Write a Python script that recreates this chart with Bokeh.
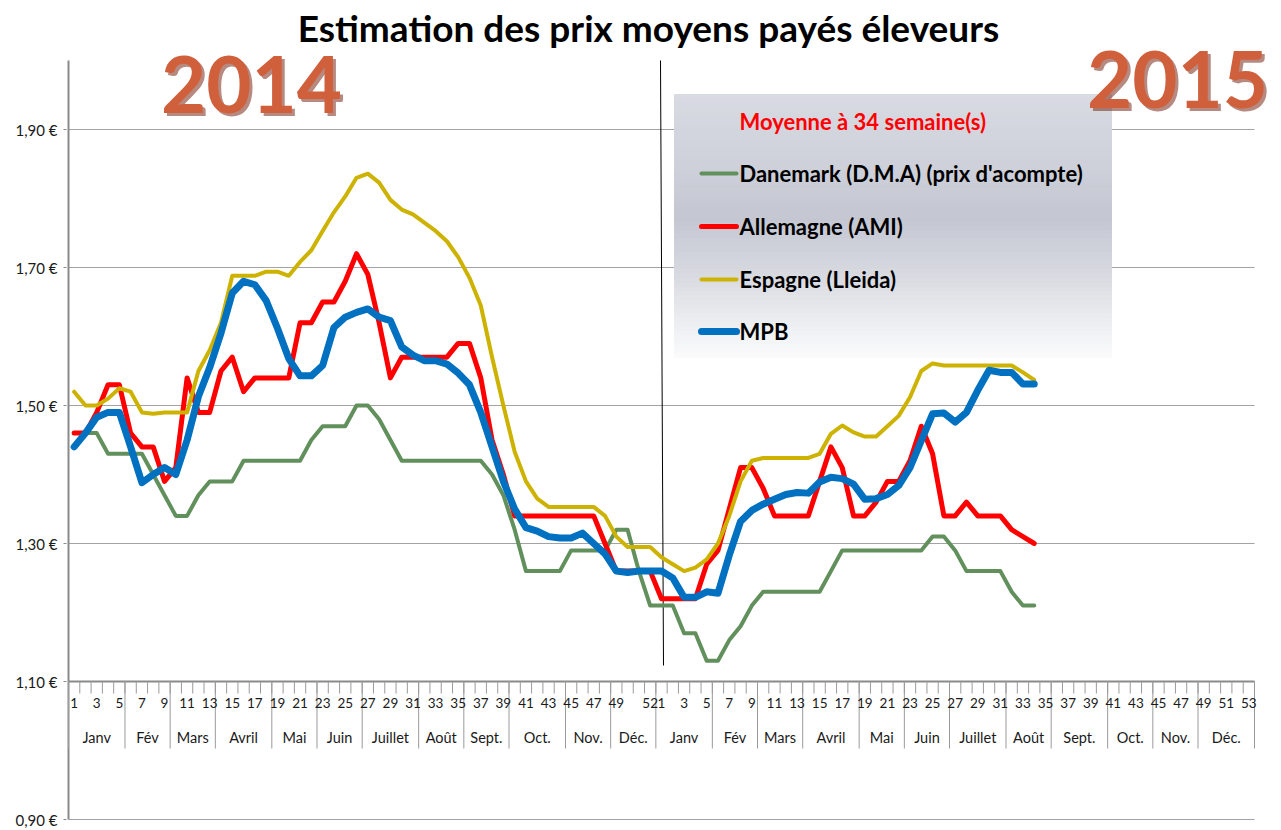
from bokeh.plotting import figure
from bokeh.models import Range1d, FixedTicker, Label, CustomJSTickFormatter
from bokeh.core.properties import value
from bokeh.embed import file_html
from bokeh.resources import INLINE

# ---------------- texts ----------------
title_text = "Estimation des prix moyens payés éleveurs"
legend_title = "Moyenne à  34 semaine(s)"
year_labels = ["2014", "2015"]
series_names = ["Danemark (D.M.A) (prix d'acompte)", "Allemagne (AMI)", "Espagne (Lleida)", "MPB"]

# ---------------- axis categories ----------------
months = ["Janv", "Fév", "Mars", "Avril", "Mai", "Juin", "Juillet", "Août", "Sept.", "Oct.", "Nov.", "Déc."]
weeks_per_month_2014 = [5, 4, 4, 5, 4, 4, 5, 4, 4, 5, 4, 4]
weeks_per_month_2015 = [5, 4, 4, 5, 4, 4, 5, 4, 5, 4, 4, 5]
week_labels_2014 = [1, 3, 5, 7, 9, 11, 13, 15, 17, 19, 21, 23, 25, 27, 29, 31, 33, 35, 37, 39,
                    41, 43, 45, 47, 49, 52]
week_labels_2015 = [1, 3, 5, 7, 9, 11, 13, 15, 17, 19, 21, 23, 25, 27, 29, 31, 33, 35, 37, 39,
                    41, 43, 45, 47, 49, 51, 53]
y_ticks = [0.90, 1.10, 1.30, 1.50, 1.70, 1.90]

# ---------------- series (EUR/kg), weekly ----------------
dk_2014 = [1.46, 1.46, 1.46, 1.43, 1.43, 1.43, 1.43, 1.40, 1.37, 1.34,
           1.34, 1.37, 1.39, 1.39, 1.39, 1.42, 1.42, 1.42, 1.42, 1.42,
           1.42, 1.45, 1.47, 1.47, 1.47, 1.50, 1.50, 1.48, 1.45, 1.42,
           1.42, 1.42, 1.42, 1.42, 1.42, 1.42, 1.42, 1.40, 1.37, 1.32,
           1.26, 1.26, 1.26, 1.26, 1.29, 1.29, 1.29, 1.29, 1.32, 1.32,
           1.26, 1.21]
dk_2015 = [1.21, 1.21, 1.17, 1.17, 1.13, 1.13, 1.16, 1.18, 1.21, 1.23,
           1.23, 1.23, 1.23, 1.23, 1.23, 1.26, 1.29, 1.29, 1.29, 1.29,
           1.29, 1.29, 1.29, 1.29, 1.31, 1.31, 1.29, 1.26, 1.26, 1.26,
           1.26, 1.23, 1.21, 1.21]

de_2014 = [1.46, 1.46, 1.49, 1.53, 1.53, 1.46, 1.44, 1.44, 1.39, 1.41,
           1.54, 1.49, 1.49, 1.55, 1.57, 1.52, 1.54, 1.54, 1.54, 1.54,
           1.62, 1.62, 1.65, 1.65, 1.68, 1.72, 1.69, 1.62, 1.54, 1.57,
           1.57, 1.57, 1.57, 1.57, 1.59, 1.59, 1.54, 1.45, 1.40, 1.34,
           1.34, 1.34, 1.34, 1.34, 1.34, 1.34, 1.34, 1.30, 1.26, 1.26,
           1.26, 1.26]
de_2015 = [1.22, 1.22, 1.22, 1.22, 1.27, 1.29, 1.35, 1.41, 1.41, 1.38,
           1.34, 1.34, 1.34, 1.34, 1.39, 1.44, 1.41, 1.34, 1.34, 1.36,
           1.39, 1.39, 1.42, 1.47, 1.43, 1.34, 1.34, 1.36, 1.34, 1.34,
           1.34, 1.32, 1.31, 1.30]

es_2014 = [1.52, 1.50, 1.50, 1.51, 1.525, 1.52, 1.49, 1.488, 1.49, 1.49,
           1.49, 1.55, 1.58, 1.62, 1.688, 1.688, 1.688, 1.694, 1.694, 1.688,
           1.708, 1.725, 1.753, 1.78, 1.803, 1.83, 1.836, 1.823, 1.798, 1.784,
           1.777, 1.765, 1.753, 1.738, 1.715, 1.685, 1.645, 1.57, 1.50, 1.433,
           1.39, 1.365, 1.353, 1.353, 1.353, 1.353, 1.353, 1.34, 1.31, 1.295,
           1.295, 1.295]
es_2015 = [1.28, 1.27, 1.26, 1.265, 1.277, 1.30, 1.34, 1.39, 1.42, 1.424,
           1.424, 1.424, 1.424, 1.424, 1.43, 1.459, 1.471, 1.461, 1.455, 1.455,
           1.47, 1.485, 1.512, 1.55, 1.561, 1.558, 1.558, 1.558, 1.558, 1.558,
           1.558, 1.558, 1.548, 1.537]

mpb_2014 = [1.44, 1.46, 1.483, 1.49, 1.49, 1.44, 1.388, 1.40, 1.41, 1.40,
            1.45, 1.513, 1.555, 1.605, 1.663, 1.68, 1.675, 1.652, 1.612, 1.568,
            1.543, 1.543, 1.558, 1.613, 1.628, 1.635, 1.64, 1.628, 1.623, 1.585,
            1.573, 1.565, 1.565, 1.56, 1.547, 1.53, 1.49, 1.44, 1.39, 1.35,
            1.323, 1.318, 1.31, 1.308, 1.308, 1.315, 1.30, 1.285, 1.26, 1.258,
            1.26, 1.26]
mpb_2015 = [1.26, 1.25, 1.222, 1.222, 1.23, 1.228, 1.283, 1.332, 1.348, 1.357,
            1.364, 1.371, 1.374, 1.373, 1.389, 1.396, 1.394, 1.386, 1.364, 1.365,
            1.371, 1.384, 1.41, 1.449, 1.488, 1.489, 1.476, 1.49, 1.522, 1.551,
            1.548, 1.548, 1.531, 1.531]

series_colors = ["#62905c", "#ff0000", "#cdb300", "#0070c0"]
series_widths = [4, 5, 4, 7]

# ---------------- geometry ----------------
N14 = sum(weeks_per_month_2014)
N15 = sum(weeks_per_month_2015)
NCAT = N14 + N15
W, H = 1281, 830
PL, PR, PT, PB = 68, 1254, 60, 819         # chart area (axes box) in pixels
Y_MIN, Y_MAX = 0.90, 2.00
AXIS_Y = 1.10
FONT = "Lato"
GRID = "#a3a3a3"
AXIS = "#8a8a8a"


def xd(px):
    return (px - PL) / (PR - PL) * NCAT


def yd(py):
    return Y_MAX - (py - PT) / (PB - PT) * (Y_MAX - Y_MIN)


def x2014(w):
    return w - 0.5


def x2015(w):
    return N14 + w - 0.5


# frame extended to the whole canvas right/top so decorative texts are not clipped
FRAME_L, FRAME_B = 66, 825
p = figure(width=W, height=H,
           x_range=Range1d(xd(FRAME_L), xd(W)), y_range=Range1d(yd(FRAME_B), yd(0)),
           output_backend="svg", toolbar_location=None, x_axis_location=None,
           min_border_left=FRAME_L, min_border_right=0, min_border_top=0,
           min_border_bottom=H - FRAME_B)
p.outline_line_color = None
p.background_fill_color = "white"
p.border_fill_color = "white"
p.xgrid.visible = False
p.ygrid.visible = False

# y axis (labels and ticks from Bokeh; its line is drawn below, limited to the chart area)
ya = p.yaxis[0]
ya.ticker = FixedTicker(ticks=y_ticks)
ya.formatter = CustomJSTickFormatter(code="return tick.toFixed(2).replace('.', ',') + ' €';")
ya.axis_line_color = None
ya.major_tick_line_color = AXIS
ya.major_tick_line_width = 1
ya.major_tick_out = 3
ya.major_tick_in = 0
ya.minor_tick_out = 0
ya.minor_tick_in = 0
ya.major_label_standoff = 6
ya.major_label_text_font = FONT
ya.major_label_text_font_size = "15px"
ya.major_label_text_color = "#1a1a1a"

# horizontal grid lines across the chart area
grid_ys = [t for t in y_ticks if abs(t - AXIS_Y) > 1e-9]
p.segment(x0=[0] * len(grid_ys), y0=grid_ys, x1=[NCAT] * len(grid_ys), y1=grid_ys,
          line_color=GRID, line_width=1)

# axis lines
p.segment(x0=[0], y0=[Y_MIN], x1=[0], y1=[Y_MAX], line_color=AXIS, line_width=2)
p.segment(x0=[0], y0=[AXIS_Y], x1=[NCAT], y1=[AXIS_Y], line_color=AXIS, line_width=2)

# category ticks and month separators under the 1.10 axis
tick_bottom = yd(693)
bx = list(range(0, NCAT + 1))
p.segment(x0=bx, y0=[AXIS_Y] * len(bx), x1=bx, y1=[tick_bottom] * len(bx),
          line_color="#9a9a9a", line_width=1)

month_bounds = [0]
for n in weeks_per_month_2014:
    month_bounds.append(month_bounds[-1] + n)
for n in weeks_per_month_2015:
    month_bounds.append(month_bounds[-1] + n)
sep_bottom = yd(748)
p.segment(x0=month_bounds, y0=[AXIS_Y] * len(month_bounds), x1=month_bounds,
          y1=[sep_bottom] * len(month_bounds), line_color="#9a9a9a", line_width=1)

wk_x = [x2014(w) for w in week_labels_2014] + [x2015(w) for w in week_labels_2015]
wk_t = [str(w) for w in week_labels_2014] + [str(w) for w in week_labels_2015]
p.text(x=wk_x, y=[yd(702)] * len(wk_x), text=wk_t, text_font=value(FONT),
       text_font_size="13.5px", text_align="center", text_baseline="middle", text_color="#1a1a1a")

m_x = [(month_bounds[i] + month_bounds[i + 1]) / 2 for i in range(len(month_bounds) - 1)]
m_t = months + months
p.text(x=m_x, y=[yd(737)] * len(m_x), text=m_t, text_font=value(FONT),
       text_font_size="14.5px", text_align="center", text_baseline="middle", text_color="#1a1a1a")

# legend box with vertical gradient
stops = [(0.0, (217, 219, 227)), (0.27, (206, 208, 218)), (0.47, (196, 199, 210)),
         (0.67, (214, 216, 223)), (0.87, (236, 238, 241)), (1.0, (251, 251, 252))]


def grad(t):
    for (t0, c0), (t1, c1) in zip(stops[:-1], stops[1:]):
        if t0 <= t <= t1:
            f = (t - t0) / (t1 - t0)
            return "#%02x%02x%02x" % tuple(int(round(a + (b - a) * f)) for a, b in zip(c0, c1))
    return "#%02x%02x%02x" % stops[-1][1]


LB_L, LB_R, LB_T, LB_B = 674, 1111, 94, 357
nb = 60
tops, bots, cols = [], [], []
for i in range(nb):
    t0, t1 = i / nb, (i + 1) / nb
    tops.append(yd(LB_T + t0 * (LB_B - LB_T)))
    bots.append(yd(LB_T + t1 * (LB_B - LB_T)))
    cols.append(grad((t0 + t1) / 2))
p.quad(left=[xd(LB_L)] * nb, right=[xd(LB_R)] * nb, top=tops, bottom=bots,
       fill_color=cols, line_color=cols, line_width=1)

# year separator
p.segment(x0=[xd(660)], y0=[Y_MAX], x1=[xd(663)], y1=[yd(665)], line_color="black", line_width=1)

# series
x_all = [x2014(w) for w in range(1, len(dk_2014) + 1)] + [x2015(w) for w in range(1, len(dk_2015) + 1)]
all_series = [dk_2014 + dk_2015, de_2014 + de_2015, es_2014 + es_2015, mpb_2014 + mpb_2015]
for ys, col, lw in zip(all_series, series_colors, series_widths):
    p.line(x=x_all, y=ys, line_color=col, line_width=lw, line_join="round", line_cap="round")

# legend content
p.add_layout(Label(x=xd(739), y=yd(121), text=legend_title, text_font=FONT, text_font_style="bold",
                   text_font_size="22px", text_color="#ff0000", text_align="left",
                   text_baseline="middle"))
row_py = [173, 226, 279, 331]
for name, col, lw, py in zip(series_names, series_colors, series_widths, row_py):
    p.line(x=[xd(701), xd(736)], y=[yd(py), yd(py)], line_color=col, line_width=lw, line_cap="round")
    p.add_layout(Label(x=xd(739), y=yd(py), text=name, text_font=FONT, text_font_style="bold",
                       text_font_size="22px", text_color="black", text_align="left",
                       text_baseline="middle"))

# title
p.add_layout(Label(x=xd(648), y=yd(27), text=title_text, text_font=FONT, text_font_style="bold",
                   text_font_size="37px", text_color="black", text_align="center",
                   text_baseline="middle"))

# decorative year labels
for txt, cx, cy in zip(year_labels, [251, 1177], [84, 79]):
    p.add_layout(Label(x=xd(cx + 3), y=yd(cy + 3), text=txt, text_font=FONT, text_font_style="bold",
                       text_font_size="78px", text_color="#7a2a18", text_alpha=0.55,
                       text_align="center", text_baseline="middle"))
    p.add_layout(Label(x=xd(cx), y=yd(cy), text=txt, text_font=FONT, text_font_style="bold",
                       text_font_size="78px", text_color="#d0603c", text_align="center",
                       text_baseline="middle"))

open("out.html", "w").write(file_html(p, INLINE))
